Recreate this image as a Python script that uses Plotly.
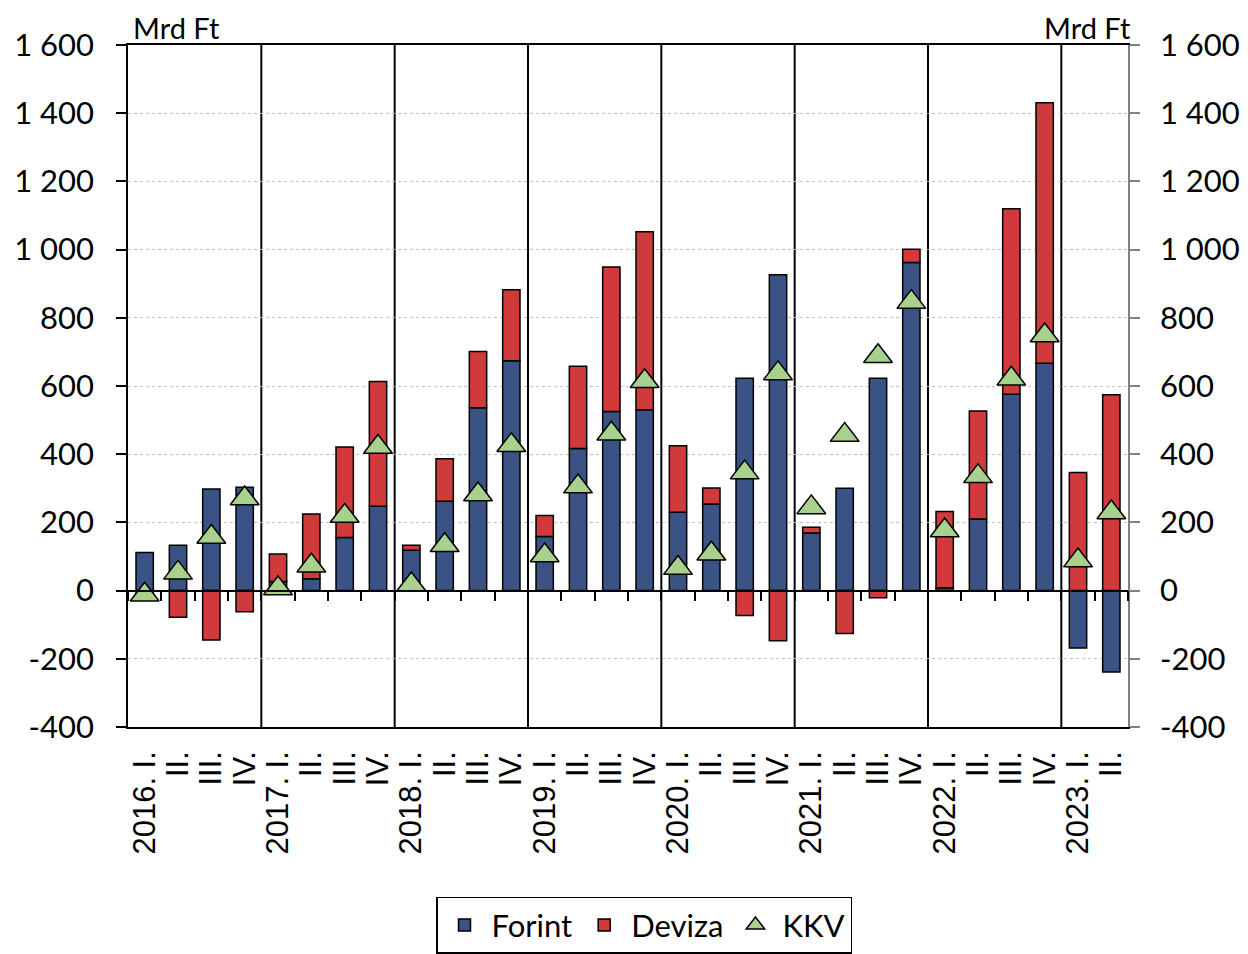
import plotly.graph_objects as go

BLUE, RED, GREEN = "#3B5284", "#D03A3A", "#A9D18E"

# Data (Mrd Ft)
years = ["2016", "2017", "2018", "2019", "2020", "2021", "2022", "2023"]
quarters = ["I.", "II.", "III.", "IV."]
n_q = 30
forint = [112, 133, 298, 303, 27, 35, 156, 247, 118, 262, 536, 674, 159, 417, 525, 530,
          230, 254, 623, 926, 169, 300, 623, 962, 8, 210, 576, 667, -168, -239]
deviza = [-10, -78, -145, -62, 80, 190, 265, 366, 15, 125, 165, 208, 61, 241, 424, 522,
          195, 47, -73, -147, 17, -126, -21, 39, 224, 317, 544, 764, 346, 574]
kkv = [-12, 52, 157, 270, 6, 73, 219, 421, 18, 133, 282, 426, 103, 305, 460, 614,
       66, 108, 346, 637, 244, 456, 687, 846, 176, 335, 621, 748, 88, 229]
y_ticks = [-400, -200, 0, 200, 400, 600, 800, 1000, 1200, 1400, 1600]
y_ticklabels = ["-400", "-200", "0", "200", "400", "600", "800", "1 000", "1 200", "1 400", "1 600"]

cats, labels = [], []
for i in range(n_q):
    yr, q = years[i // 4], quarters[i % 4]
    cats.append(f"{yr}. {q}")
    labels.append(f"{yr}. {q}" if q == "I." else q)

TICKFONT = dict(family="Lato, sans-serif", size=31, color="black")

fig = go.Figure()
fig.add_trace(go.Bar(x=cats, y=forint, name="Forint", marker=dict(color=BLUE, line=dict(color="black", width=1.5))))
fig.add_trace(go.Bar(x=cats, y=deviza, name="Deviza", marker=dict(color=RED, line=dict(color="black", width=1.5))))
fig.add_trace(go.Scatter(x=cats, y=kkv, name="KKV", mode="markers", xaxis="x2", yaxis="y2",
                         marker=dict(symbol="triangle-up", size=25, color=GREEN,
                                     line=dict(color="black", width=1.5))))

# year separators
for i in range(4, n_q, 4):
    fig.add_shape(type="line", xref="x", yref="paper", x0=i - 0.5, x1=i - 0.5, y0=0, y1=1,
                  line=dict(color="black", width=2), layer="between")

# page body has an 8px margin, so the figure is a bit smaller than the window
fig.update_layout(
    width=1240, height=946,
    margin=dict(l=120, r=120, t=37, b=227, autoexpand=False),
    plot_bgcolor="white", paper_bgcolor="white",
    barmode="relative", bargap=0.48,
    showlegend=True,
    legend=dict(orientation="h", x=0.516, xanchor="center", y=-0.249, yanchor="top",
                bordercolor="black", borderwidth=1.5, font=TICKFONT, traceorder="normal",
                itemwidth=44),
    xaxis=dict(type="category", range=[-0.5, n_q - 0.5], tickvals=cats, ticktext=labels,
               tickangle=-90, ticks="", ticklabelstandoff=10, automargin=False,
               tickfont=dict(family="Liberation Sans, Arial, sans-serif", size=31, color="black"),
               showline=True, linecolor="black", linewidth=1.5, mirror=True, showgrid=False),
    xaxis2=dict(type="category", overlaying="x", anchor="free", position=0.2, matches="x",
                range=[-0.5, n_q - 0.5], showticklabels=False, ticks="outside", ticklen=10,
                tickwidth=1.5, tickcolor="black", tickson="boundaries", showline=True,
                linecolor="black", linewidth=1.5, showgrid=False, automargin=False),
    yaxis=dict(range=[-400, 1600], tickvals=y_ticks, ticktext=y_ticklabels, tickfont=TICKFONT,
               ticks="outside", ticklen=10, tickwidth=1.5, tickcolor="black", ticklabelstandoff=16,
               showline=True, linecolor="black", linewidth=1.5, zeroline=False, automargin=False,
               showgrid=True, gridcolor="#BFBFBF", griddash="dot", gridwidth=1),
    yaxis2=dict(range=[-400, 1600], overlaying="y", side="right", anchor="x",
                tickvals=y_ticks, ticktext=y_ticklabels, tickfont=TICKFONT, automargin=False,
                ticks="outside", ticklen=10, tickwidth=1.5, tickcolor="#808080", ticklabelstandoff=14,
                showline=True, linecolor="#808080", linewidth=1.5, zeroline=False, showgrid=False),
    annotations=[
        dict(text="Mrd Ft", xref="paper", yref="paper", x=0.003, y=1.054, xanchor="left", yanchor="top",
             showarrow=False, font=dict(family="Lato, sans-serif", size=29, color="black")),
        dict(text="Mrd Ft", xref="paper", yref="paper", x=1.005, y=1.054, xanchor="right", yanchor="top",
             showarrow=False, font=dict(family="Lato, sans-serif", size=29, color="black")),
    ],
)

fig.write_html("out.html")
